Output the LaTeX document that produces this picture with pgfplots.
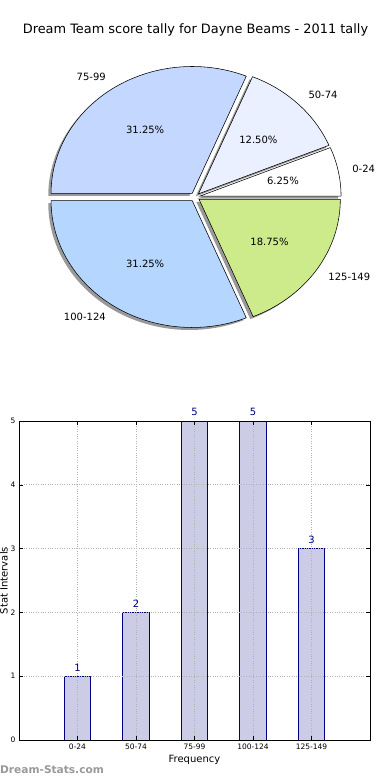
\documentclass[border=0pt]{standalone}
\usepackage{pgfplots}
\pgfplotsset{compat=1.18}
\usepackage{fontspec}
\setmainfont{DejaVu Sans}

\definecolor{c1}{RGB}{255,255,255}
\definecolor{c2}{RGB}{234,240,255}
\definecolor{c3}{RGB}{196,216,255}
\definecolor{c4}{RGB}{181,214,255}
\definecolor{c5}{RGB}{205,235,139}
\definecolor{barfill}{RGB}{204,204,230}
\definecolor{baredge}{RGB}{0,0,128}

% pie geometry (axis units = bp)
\def\PCX{195}
\def\PCY{-197}
\def\PRX{141.2}
\def\PRY{126.8}
\def\PEX{0.035}
\def\SHX{-2.8}
\def\SHY{-2.5}

\tikzset{pielbl/.style={font=\fontsize{10bp}{12bp}\selectfont, inner sep=0pt}}

\newcommand{\pieslice}[5]{%
  \pgfmathsetmacro\aA{360*#1/#5}%
  \pgfmathsetmacro\aB{360*(#1+#2)/#5}%
  \pgfmathsetmacro\aM{(\aA+\aB)/2}%
  \pgfmathsetmacro\cx{\PCX+\PEX*\PRX*cos(\aM)}%
  \pgfmathsetmacro\cy{\PCY+\PEX*\PRY*sin(\aM)}%
  \pgfmathsetmacro\sx{\cx+\SHX}%
  \pgfmathsetmacro\sy{\cy+\SHY}%
  \pgfmathsetmacro\px{\cx+0.6*\PRX*cos(\aM)}%
  \pgfmathsetmacro\py{\cy+0.6*\PRY*sin(\aM)}%
  \pgfmathsetmacro\lx{\cx+1.1*\PRX*cos(\aM)}%
  \pgfmathsetmacro\ly{\cy+1.1*\PRY*sin(\aM)}%
  \pgfmathsetmacro\pct{100*#2/#5}%
  \pgfmathsetmacro\cc{cos(\aM)}%
  \ifdim\cc pt<0pt \def\anc{east}\else\def\anc{west}\fi
  \edef\doit{%
    \noexpand\addplot[fill=black, fill opacity=0.4, draw=none, domain=\aA:\aB, samples=80]
      ({\sx+\PRX*cos(x)},{\sy+\PRY*sin(x)}) -- (axis cs:\sx,\sy) -- cycle;
    \noexpand\addplot[fill=#3, draw=black, line width=0.55bp, domain=\aA:\aB, samples=80]
      ({\cx+\PRX*cos(x)},{\cy+\PRY*sin(x)}) -- (axis cs:\cx,\cy) -- cycle;
    \noexpand\node[pielbl] at (axis cs:\px,\py) {\noexpand\pgfmathprintnumber[fixed,fixed zerofill,precision=2,assume math mode=true]{\pct}\noexpand\%};
    \noexpand\node[pielbl, anchor=\anc] at (axis cs:\lx,\ly) {#4};
  }%
  \doit
}

\begin{document}
\begin{tikzpicture}
\useasboundingbox (0,0) rectangle (390bp,780bp);

% title
\node[font=\fontsize{12.9bp}{15bp}\selectfont] at (195.5bp,750bp) {Dream Team score tally for Dayne Beams - 2011 tally};

% pie
\begin{axis}[at={(0,390bp)}, anchor=south west, scale only axis,
  width=390bp, height=390bp, xmin=0, xmax=390, ymin=-390, ymax=0,
  hide axis, clip=false]
\pieslice{0}{1}{c1}{0-24}{16}
\pieslice{1}{2}{c2}{50-74}{16}
\pieslice{3}{5}{c3}{75-99}{16}
\pieslice{8}{5}{c4}{100-124}{16}
\pieslice{13}{3}{c5}{125-149}{16}
\end{axis}

% bars
\begin{axis}[at={(19bp,40bp)}, anchor=south west, scale only axis,
  width=351bp, height=319bp, xmin=-1, xmax=5, ymin=0, ymax=5,
  xtick={0,1,2,3,4}, xticklabels={0-24,50-74,75-99,100-124,125-149},
  ytick={0,1,2,3,4,5},
  /pgf/number format/assume math mode=true,
  tick label style={font=\fontsize{7.5bp}{9bp}\selectfont},
  grid=major, grid style={dotted, black!30, line width=0.8bp},
  tick align=inside, major tick length=4bp,
  tick style={black, line width=0.5bp},
  axis line style={line width=0.8bp},
  axis on top,
  xlabel={Frequency}, ylabel={Stat Intervals},
  label style={font=\fontsize{10bp}{12bp}\selectfont},
  xlabel style={at={(axis description cs:0.5,-0.063)}, anchor=center},
  ylabel style={at={(axis description cs:-0.043,0.5)}, anchor=center},
  ]
\addplot[ybar, bar width=0.45, fill=barfill, draw=baredge, line width=0.8bp,
  nodes near coords, nodes near coords style={font=\fontsize{10bp}{12bp}\selectfont, text=baredge, inner sep=2bp, yshift=2.5bp}]
  table {
x y
0 1
1 2
2 5
3 5
4 3
};
\end{axis}

\node[anchor=west, inner sep=0pt, text=black!40, font=\fontsize{10.6bp}{12bp}\selectfont\bfseries] at (0bp,10bp) {Dream-Stats.com};
\end{tikzpicture}
\end{document}
